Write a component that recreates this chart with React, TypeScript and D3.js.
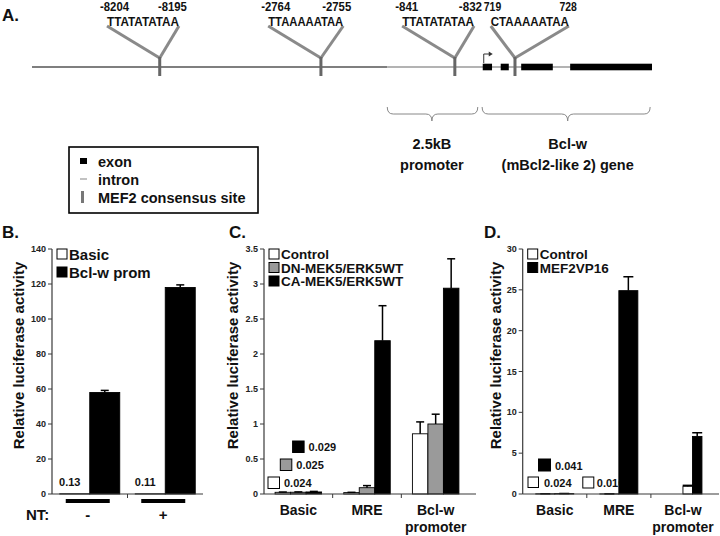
import React from "react";
import * as d3 from "d3";

const FONT = "'Liberation Sans', Arial, Helvetica, sans-serif";

// ---------- Panel A : schematic (map units 0..100 along the locus) ----------
const siteLabelsLeft = ["-8204", "-2764", "-841", "719"];
const siteLabelsRight = ["-8195", "-2755", "-832", "728"];
const siteSequences = ["TTATATATAA", "TTAAAAATAA", "TTATATATAA", "CTAAAAATAA"];
const sitePos = [20.6, 46.6, 68.2, 77.9];
const siteSpanLeft = [12.1, 38.1, 59.7, 74.0];
const siteSpanRight = [23.7, 50.2, 71.3, 86.6];
const exonStart = [72.7, 75.6, 78.9, 86.8];
const exonEnd = [74.2, 76.9, 84.0, 100];
const regionLine1 = ["2.5kB", "Bcl-w"];
const regionLine2 = ["promoter", "(mBcl2-like 2) gene"];
const regionStart = [57.3, 72.6];
const regionEnd = [71.9, 99.7];
const regionTip = [64.5, 86.4];
const promoterStart = 57.3;
const legendItems = ["exon", "intron", "MEF2 consensus site"];

// ---------- Panel B ----------
const bCategories = ["-", "+"];
const bSeries = ["Basic", "Bcl-w prom"];
const bBasic = [0.13, 0.11];
const bBclw = [58, 118];
const bBasicErr = [0, 0];
const bBclwErr = [1.2, 1.5];
const bTicks = [0, 20, 40, 60, 80, 100, 120, 140];
const bValueLabels = ["0.13", "0.11"];

// ---------- Panel C ----------
const cCategories = ["Basic", "MRE", "Bcl-w promoter"];
const cSeries = ["Control", "DN-MEK5/ERK5WT", "CA-MEK5/ERK5WT"];
const cControl = [0.024, 0.02, 0.86];
const cDN = [0.025, 0.09, 1.0];
const cCA = [0.029, 2.19, 2.94];
const cControlErr = [0.004, 0.004, 0.17];
const cDNErr = [0.005, 0.03, 0.14];
const cCAErr = [0.008, 0.5, 0.42];
const cTicks = [0, 0.5, 1, 1.5, 2, 2.5, 3, 3.5];
const cBasicLabels = ["0.024", "0.025", "0.029"];

// ---------- Panel D ----------
const dCategories = ["Basic", "MRE", "Bcl-w promoter"];
const dSeries = ["Control", "MEF2VP16"];
const dControl = [0.024, 0.01, 0.94];
const dMEF = [0.041, 24.9, 7.05];
const dControlErr = [0.01, 0.01, 0.12];
const dMEFErr = [0.02, 1.7, 0.45];
const dTicks = [0, 5, 10, 15, 20, 25, 30];
const dBasicLabels = ["0.024", "0.041"];
const dMRELabel = "0.010";

const FILLS3 = ["#ffffff", "#9a9a9a", "#000000"];
const FILLS2 = ["#ffffff", "#000000"];

type Series = { name: string; fill: string; values: number[]; errors: number[] };
type Sc = d3.ScaleBand<string>;
type Ln = d3.ScaleLinear<number, number>;

type ChartProps = {
  left: number;
  right: number;
  axisRight: number;
  top: number;
  bottom: number;
  yMax: number;
  ticks: number[];
  categories: string[];
  series: Series[];
  barWidth: number;
  groupBarScale?: number[];
  groupShift?: number[];
  capWidth: number;
  titleX: number;
  legendSize: number;
  legendStep: number;
  legendFont: number;
  showCatLabels: boolean;
  under?: (x: Sc, y: Ln) => React.ReactNode;
  over?: (x: Sc, y: Ln) => React.ReactNode;
};

function Chart(p: ChartProps) {
  const x = d3.scaleBand<string>().domain(p.categories).range([p.left, p.right]);
  const n = p.series.length;
  const y = d3.scaleLinear().domain([0, p.yMax]).range([p.bottom, p.top]);
  const axisColor = "#3a3a3a";
  const boundaries = p.categories.map((c) => x(c)! + x.bandwidth()).slice(0, -1);
  const barGeom = (ci: number, si: number) => {
    const bw = p.barWidth * (p.groupBarScale ? p.groupBarScale[ci] : 1);
    const inner = d3
      .scaleBand<string>()
      .domain(p.series.map((s) => s.name))
      .range([(-n * bw) / 2, (n * bw) / 2]);
    const c = p.categories[ci];
    const bx = x(c)! + x.bandwidth() / 2 + (p.groupShift ? p.groupShift[ci] : 0) + inner(p.series[si].name)!;
    return { bx, bw };
  };
  return (
    <g>
      {p.under && p.under(x, y)}
      {p.series.map((s, si) =>
        p.categories.map((c, ci) => {
          const { bx, bw } = barGeom(ci, si);
          const v = s.values[ci];
          return (
            <rect
              key={s.name + c}
              x={bx}
              y={y(v)}
              width={bw}
              height={Math.max(0.01, p.bottom - y(v))}
              fill={s.fill}
              stroke="#000"
              strokeWidth={0.9}
            />
          );
        })
      )}
      {p.series.map((s, si) =>
        p.categories.map((c, ci) => {
          const e = s.errors[ci];
          if (!e) return null;
          const { bx, bw } = barGeom(ci, si);
          const cx = bx + bw / 2;
          const v = s.values[ci];
          return (
            <g key={"e" + s.name + c} stroke="#000" strokeWidth={1.5}>
              <line x1={cx} x2={cx} y1={y(v)} y2={y(v + e)} />
              <line x1={cx - p.capWidth / 2} x2={cx + p.capWidth / 2} y1={y(v + e)} y2={y(v + e)} />
            </g>
          );
        })
      )}
      <line x1={p.left} x2={p.left} y1={p.bottom} y2={p.top} stroke={axisColor} strokeWidth={1.2} />
      {p.ticks.map((t) => (
        <g key={"t" + t}>
          <line x1={p.left - 4} x2={p.left} y1={y(t)} y2={y(t)} stroke={axisColor} strokeWidth={1} />
          <text
            x={p.left - 6}
            y={y(t)}
            textAnchor="end"
            dominantBaseline="central"
            fontSize={9}
            fontWeight="bold"
            fill="#222"
          >
            {t}
          </text>
        </g>
      ))}
      <line x1={p.left} x2={p.axisRight} y1={p.bottom} y2={p.bottom} stroke={axisColor} strokeWidth={1.2} />
      {boundaries.map((b, i) => (
        <line key={"b" + i} x1={b} x2={b} y1={p.bottom} y2={p.bottom + 4} stroke={axisColor} strokeWidth={1} />
      ))}
      {p.showCatLabels &&
        p.categories.map((c) =>
          c.split(" ").map((part, j) => (
            <text
              key={c + j}
              x={x(c)! + x.bandwidth() / 2}
              y={p.bottom + 21 + j * 17}
              textAnchor="middle"
              fontSize={14}
              fontWeight="bold"
              fill="#111"
            >
              {part}
            </text>
          ))
        )}
      <text
        transform={`translate(${p.titleX},${(p.top + p.bottom) / 2 - 16}) rotate(-90)`}
        textAnchor="middle"
        dominantBaseline="central"
        fontSize={15}
        fontWeight="bold"
        fill="#111"
      >
        Relative luciferase activity
      </text>
      {p.series.map((s, i) => (
        <g key={"l" + s.name}>
          <rect
            x={p.left + 5}
            y={p.top + i * p.legendStep}
            width={p.legendSize}
            height={p.legendSize}
            fill={s.fill}
            stroke="#000"
            strokeWidth={1}
          />
          <text
            x={p.left + 7 + p.legendSize}
            y={p.top + i * p.legendStep + p.legendSize / 2 + 0.5}
            dominantBaseline="central"
            fontSize={p.legendFont}
            fontWeight="bold"
            fill="#111"
          >
            {s.name}
          </text>
        </g>
      ))}
      {p.over && p.over(x, y)}
    </g>
  );
}

function PanelA() {
  const m = d3.scaleLinear().domain([0, 100]).range([32, 652]);
  const lineY = 67;
  const brace = (x0: number, x1: number, xc: number, y0: number, y1: number) => {
    const ym = (y0 + y1) / 2;
    const r = 6;
    return `M${x0},${y0} Q${x0},${ym} ${x0 + r},${ym} L${xc - r},${ym} Q${xc},${ym} ${xc},${y1} Q${xc},${ym} ${xc + r},${ym} L${x1 - r},${ym} Q${x1},${ym} ${x1},${y0}`;
  };
  const tss = m(exonStart[0]) + 1;
  return (
    <g>
      <text x={2} y={21} fontSize={17} fontWeight="bold" fill="#111">A.</text>
      <line x1={m(0)} x2={m(promoterStart)} y1={lineY} y2={lineY} stroke="#555" strokeWidth={1.3} />
      <line x1={m(promoterStart)} x2={m(100)} y1={lineY} y2={lineY} stroke="#9a9a9a" strokeWidth={1.3} />
      {exonStart.map((s, i) => (
        <rect key={"ex" + i} x={m(s)} y={lineY - 3.3} width={m(exonEnd[i]) - m(s)} height={6.6} fill="#000" />
      ))}
      <path d={`M${tss},${lineY - 4} L${tss},${lineY - 13} L${tss + 6},${lineY - 13}`} fill="none" stroke="#333" strokeWidth={1} />
      <path d={`M${tss + 5},${lineY - 15.5} L${tss + 9},${lineY - 13} L${tss + 5},${lineY - 10.5} Z`} fill="#333" />
      {sitePos.map((s, i) => {
        const xl = m(siteSpanLeft[i]);
        const xr = m(siteSpanRight[i]);
        return (
          <g key={"site" + i}>
            <line x1={xl} y1={26} x2={m(s)} y2={58} stroke="#8a8a8a" strokeWidth={3} />
            <line x1={xr} y1={26} x2={m(s)} y2={58} stroke="#8a8a8a" strokeWidth={3} />
            <rect x={m(s) - 1.5} y={57} width={3} height={19} fill="#666" />
            <text
              x={xl}
              y={26}
              fontSize={13}
              fontWeight="bold"
              fill="#111"
              textLength={xr - xl}
              lengthAdjust="spacingAndGlyphs"
            >
              {siteSequences[i]}
            </text>
            <text
              x={xl - 7}
              y={11}
              fontSize={12}
              fontWeight="bold"
              fill="#111"
              textLength={siteLabelsLeft[i].length * 5.8}
              lengthAdjust="spacingAndGlyphs"
            >
              {siteLabelsLeft[i]}
            </text>
            <text
              x={xr + 8 - siteLabelsRight[i].length * 5.8}
              y={11}
              fontSize={12}
              fontWeight="bold"
              fill="#111"
              textLength={siteLabelsRight[i].length * 5.8}
              lengthAdjust="spacingAndGlyphs"
            >
              {siteLabelsRight[i]}
            </text>
          </g>
        );
      })}
      {regionStart.map((s, i) => (
        <g key={"reg" + i}>
          <path d={brace(m(s), m(regionEnd[i]), m(regionTip[i]), 107, 121)} fill="none" stroke="#888" strokeWidth={1} />
          <text x={m(regionTip[i])} y={149} textAnchor="middle" fontSize={14.5} fontWeight="bold" fill="#111">
            {regionLine1[i]}
          </text>
          <text x={m(regionTip[i])} y={170} textAnchor="middle" fontSize={14.5} fontWeight="bold" fill="#111">
            {regionLine2[i]}
          </text>
        </g>
      ))}
      <rect x={69} y={147} width={189} height={66} fill="none" stroke="#000" strokeWidth={1.6} />
      {legendItems.map((t, i) => {
        const cy = 161 + i * 18;
        return (
          <g key={"li" + i}>
            {i === 0 && <rect x={80} y={cy - 3} width={7} height={6} fill="#000" />}
            {i === 1 && <line x1={80} x2={87} y1={cy} y2={cy} stroke="#999" strokeWidth={1.2} />}
            {i === 2 && <rect x={81} y={cy - 6} width={3} height={12} fill="#777" />}
            <text x={98} y={cy + 0.5} dominantBaseline="central" fontSize={14.5} fontWeight="bold" fill="#111">
              {t}
            </text>
          </g>
        );
      })}
    </g>
  );
}

export default function App() {
  const bSer: Series[] = [
    { name: bSeries[0], fill: FILLS2[0], values: bBasic, errors: bBasicErr },
    { name: bSeries[1], fill: FILLS2[1], values: bBclw, errors: bBclwErr },
  ];
  const cSer: Series[] = [
    { name: cSeries[0], fill: FILLS3[0], values: cControl, errors: cControlErr },
    { name: cSeries[1], fill: FILLS3[1], values: cDN, errors: cDNErr },
    { name: cSeries[2], fill: FILLS3[2], values: cCA, errors: cCAErr },
  ];
  const dSer: Series[] = [
    { name: dSeries[0], fill: FILLS2[0], values: dControl, errors: dControlErr },
    { name: dSeries[1], fill: FILLS2[1], values: dMEF, errors: dMEFErr },
  ];
  const top = 249;
  const bottom = 494;
  return (
    <>
      <style>{`body{margin:0;background:#fff}`}</style>
      <svg width={720} height={536} style={{ display: "block", fontFamily: FONT }}>
        <rect width={720} height={536} fill="#fff" />
        <PanelA />
        <text x={2} y={238} fontSize={17} fontWeight="bold" fill="#111">B.</text>
        <text x={229} y={238} fontSize={17} fontWeight="bold" fill="#111">C.</text>
        <text x={484} y={238} fontSize={17} fontWeight="bold" fill="#111">D.</text>

        <Chart
          left={52}
          right={203}
          axisRight={203}
          top={top}
          bottom={bottom}
          yMax={140}
          ticks={bTicks}
          categories={bCategories}
          series={bSer}
          barWidth={30}
          capWidth={8}
          titleX={18}
          legendSize={10}
          legendStep={18}
          legendFont={15}
          showCatLabels={false}
          over={(x, y) => (
            <g>
              {bCategories.map((c, i) => {
                const cx = x(c)! + x.bandwidth() / 2;
                return (
                  <g key={"nt" + i}>
                    <text x={cx - 20} y={y(bBasic[i]) - 8} textAnchor="middle" fontSize={11} fontWeight="bold" fill="#111">
                      {bValueLabels[i]}
                    </text>
                    <rect x={cx - 24} y={bottom + 5} width={44} height={4} fill="#000" />
                    <text x={cx - 2} y={bottom + 26} textAnchor="middle" fontSize={15} fontWeight="bold" fill="#111">
                      {c}
                    </text>
                  </g>
                );
              })}
              <text x={26} y={bottom + 26} fontSize={15} fontWeight="bold" fill="#111">NT:</text>
            </g>
          )}
        />

        <Chart
          left={264}
          right={470}
          axisRight={476}
          top={top}
          bottom={bottom}
          yMax={3.5}
          ticks={cTicks}
          categories={cCategories}
          series={cSer}
          barWidth={15.5}
          capWidth={8}
          titleX={232}
          legendSize={10}
          legendStep={13.5}
          legendFont={13.5}
          showCatLabels={true}
          over={() => (
            <g>
              {cBasicLabels.map((t, i) => {
                const sx = 268 + 12.3 * i;
                const sy = 477 - 18 * i;
                return (
                  <g key={"cl" + i}>
                    <rect x={sx} y={sy} width={11.5} height={11.5} fill={FILLS3[i]} stroke="#000" strokeWidth={1} />
                    <text x={sx + 16} y={sy + 10} fontSize={11} fontWeight="bold" fill="#111">
                      {t}
                    </text>
                  </g>
                );
              })}
            </g>
          )}
        />

        <Chart
          left={522.7}
          right={715}
          axisRight={719}
          top={top}
          bottom={bottom}
          yMax={30}
          ticks={dTicks}
          categories={dCategories}
          series={dSer}
          barWidth={19}
          groupBarScale={[1, 1, 0.5]}
          groupShift={[0, 0, 9.5]}
          capWidth={10}
          titleX={495}
          legendSize={10}
          legendStep={13.5}
          legendFont={13.5}
          showCatLabels={true}
          under={(x) => (
            <g>
              <rect x={x("MRE")! - 4} y={477} width={11} height={11} fill="#fff" stroke="#000" strokeWidth={1} />
              <text x={x("MRE")! + 10} y={487} fontSize={11} fontWeight="bold" fill="#111">
                {dMRELabel}
              </text>
            </g>
          )}
          over={() => (
            <g>
              <rect x={528} y={477} width={10.5} height={10.5} fill="#fff" stroke="#000" strokeWidth={1} />
              <text x={544} y={487} fontSize={11} fontWeight="bold" fill="#111">{dBasicLabels[0]}</text>
              <rect x={538.5} y={459} width={12} height={12} fill="#000" stroke="#000" strokeWidth={1} />
              <text x={555} y={470} fontSize={11} fontWeight="bold" fill="#111">{dBasicLabels[1]}</text>
            </g>
          )}
        />
      </svg>
    </>
  );
}
